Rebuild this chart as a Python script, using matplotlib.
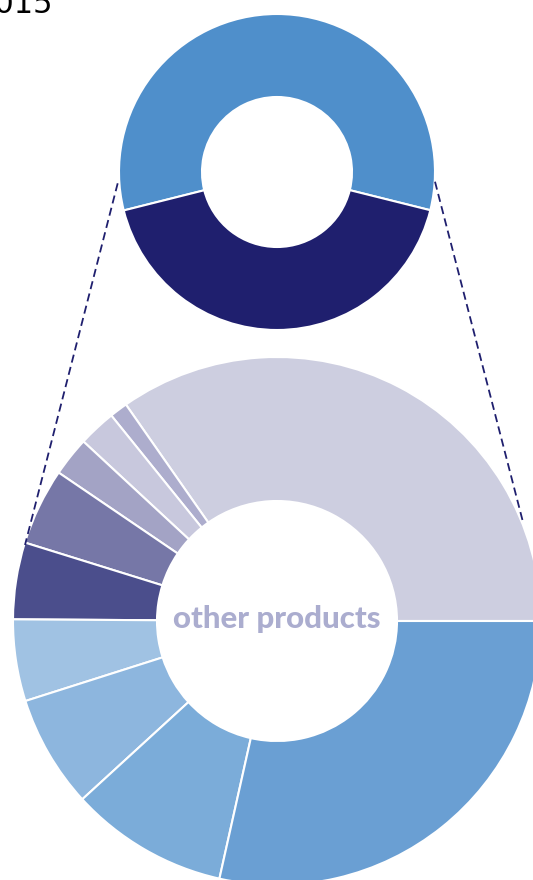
from matplotlib import pyplot as plt

# shares (percent of the ring)
top_shares = [57.8, 42.2]
top_colors = ['#4f8fcb', '#1f1f6e']

other_shares = [34.7, 1.1, 2.3, 2.4, 4.7, 4.7, 5.0, 6.9, 9.7, 28.5]
other_colors = ['#cdcee0', '#adadcd', '#c8c8dd', '#a3a3c5', '#7677a7',
                '#4b4e8c', '#a0c2e3', '#8db6de', '#7bacd9', '#6a9fd3']

year = '2015'
center_label = 'other products'

fig = plt.figure(figsize=(5.33, 8.8), dpi=100)
ax = fig.add_axes([0, 0, 1, 1])

# top ring
ax.pie(top_shares, colors=top_colors, startangle=-14, counterclock=True,
       radius=158, center=(277, 708),
       wedgeprops=dict(width=83, edgecolor='white', linewidth=1.5))

# bottom ring (breakdown of other products)
ax.pie(other_shares, colors=other_colors, startangle=0, counterclock=True,
       radius=264, center=(277, 259),
       wedgeprops=dict(width=144, edgecolor='white', linewidth=1.5))

# dashed connectors
ax.plot([117.7, 25], [696.7, 335], color='#1f1f6e', lw=1.3, ls=(0, (4.5, 2.5)))
ax.plot([435, 523.3], [698.3, 356.7], color='#1f1f6e', lw=1.3, ls=(0, (4.5, 2.5)))

ax.text(276.7, 252, center_label, ha='center', va='baseline',
        fontsize=22.5, fontweight='black', color='#abadcf',
        family=['Lato', 'DejaVu Sans'])

ax.text(53, 880 - 13, year, ha='right', va='baseline', fontsize=22, color='black')

ax.set_xlim(0, 533)
ax.set_ylim(0, 880)
ax.set_aspect('equal')
ax.axis('off')

plt.savefig('out.png', dpi=100)
